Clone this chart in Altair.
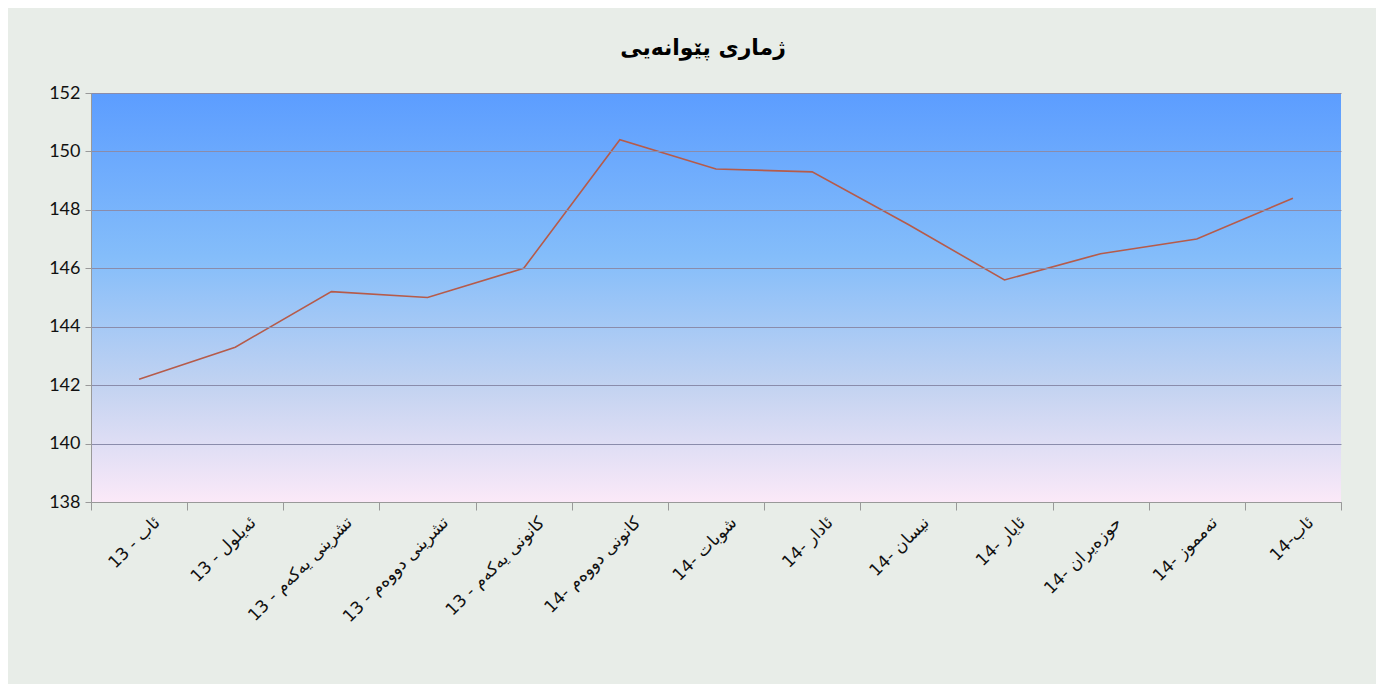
import altair as alt
import pandas as pd

months = [
    "13 - ئاب",
    "13 - ئەیلول",
    "13 - تشرینی یەکەم",
    "13 - تشرینی دووەم",
    "13 - کانونی یەکەم",
    "14- کانونی دووەم",
    "14- شوبات",
    "14- ئادار",
    "14- نیسان",
    "14- ئایار",
    "14- حوزەیران",
    "14- تەمموز",
    "14-ئاب",
]
values = [142.2, 143.3, 145.2, 145.0, 146.0, 150.4, 149.4, 149.3, 147.5, 145.6, 146.5, 147.0, 148.4]

df = pd.DataFrame({"month": months, "value": values, "order": list(range(len(months)))})

gradient = alt.LinearGradient(
    gradient="linear",
    stops=[
        alt.GradientStop(color="#5c9dff", offset=0),
        alt.GradientStop(color="#84bdfa", offset=0.4),
        alt.GradientStop(color="#c3d3f1", offset=0.72),
        alt.GradientStop(color="#fbe9f8", offset=1),
    ],
    x1=0, x2=0, y1=0, y2=1,
)

x_enc = alt.X(
    "month:N",
    sort=months,
    scale=alt.Scale(type="band", paddingInner=0, paddingOuter=0),
    axis=alt.Axis(
        title=None,
        labelAngle=-45,
        labelAlign="right",
        labelBaseline="top",
        labelFontSize=17,
        labelColor="#111111",
        labelFont="DejaVu Sans",
        tickBand="extent",
        tickSize=8,
        tickColor="#999999",
        domainColor="#999999",
        grid=False,
        labelPadding=4,
        labelOffset=12,
        zindex=1,
    ),
)
y_enc = alt.Y(
    "value:Q",
    scale=alt.Scale(domain=[138, 152], nice=False, zero=False),
    axis=alt.Axis(
        title=None,
        values=[138, 140, 142, 144, 146, 148, 150, 152],
        labelFontSize=18,
        labelFont="Lato",
        labelColor="#111111",
        tickSize=6,
        tickColor="#999999",
        domainColor="#999999",
        gridColor="#8a8cab",
        gridWidth=1,
        labelPadding=5,
        zindex=1,
    ),
)

bg = (
    alt.Chart(pd.DataFrame({"a": [0]}))
    .mark_rect(fill=gradient, stroke=None)
    .encode(
        x=alt.value(0),
        x2=alt.value("width"),
        y=alt.value(0),
        y2=alt.value("height"),
    )
)

line = (
    alt.Chart(df)
    .mark_line(color="#b65b4a", strokeWidth=1.6)
    .encode(x=x_enc, y=y_enc, order="order:Q")
)

chart = (
    alt.layer(bg, line)
    .properties(
        width=1250,
        height=409,
        title=alt.TitleParams(
            text="ژماری پێوانەیی",
            fontSize=22,
            fontWeight="bold",
            font="DejaVu Sans",
            color="#000000",
            anchor="middle",
            offset=24,
            dx=-13,
        ),
        autosize=alt.AutoSizeParams(type="none"),
        padding={"left": 83, "top": 85, "right": 35, "bottom": 182},
        background="#e8ede8",
    )
    .configure_view(stroke=None)
)

chart.save("out.html", embed_options={"renderer": "svg", "actions": False})
